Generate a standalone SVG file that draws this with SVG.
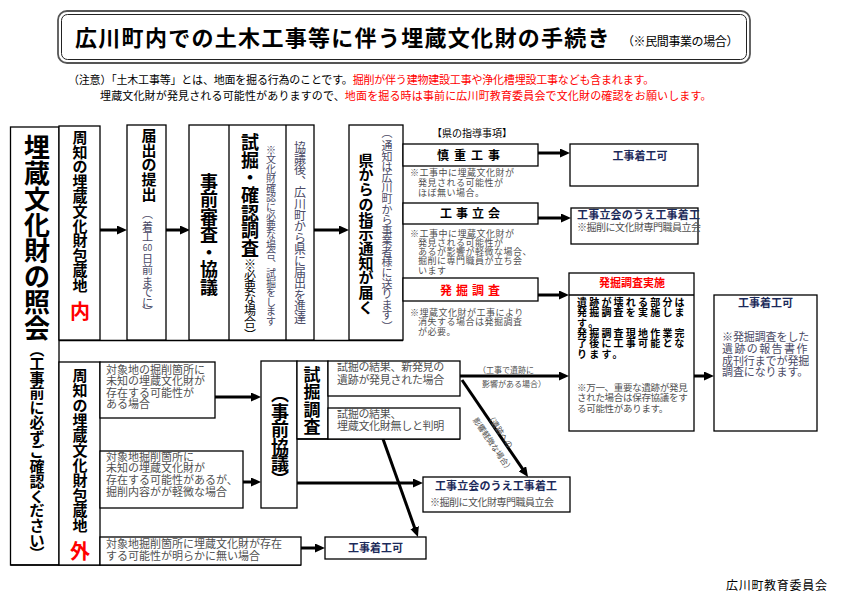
<svg xmlns="http://www.w3.org/2000/svg" width="841" height="596" viewBox="0 0 841 596">
<defs>
<marker id="ah" markerUnits="userSpaceOnUse" markerWidth="10" markerHeight="9" refX="3" refY="4.5" orient="auto" viewBox="0 0 10 9">
<path d="M0,0 L10,4.5 L0,9 z" fill="#000"/>
</marker>
<style>
text{font-family:"Noto Sans CJK JP","Noto Sans CJK SC",sans-serif;fill:#000}
.c{text-anchor:middle}
.bd{font-weight:bold}
.g{fill:#505050}
.bl{fill:#4a4a66}
.n{fill:#1c2a5a}
.r{fill:#ff0000}
.box{fill:#fff;stroke:#000;stroke-width:1.3}
.ln{fill:none;stroke:#000;stroke-width:1.3}
.a{fill:none;stroke:#000;stroke-width:3;marker-end:url(#ah)}
</style>
</defs>
<rect width="841" height="596" fill="#fff"/>

<g id="title">
<rect x="58" y="11" width="692" height="52" rx="9" fill="none" stroke="#555" stroke-width="1.8"/>
<rect x="61.5" y="14.5" width="685" height="45" rx="6" fill="none" stroke="#222" stroke-width="1"/>
<text x="75" y="46" font-size="22" font-weight="bold" letter-spacing="1.3">広川町内での土木工事等に伴う埋蔵文化財の手続き</text>
<text x="622" y="46" font-size="12" letter-spacing="-0.4" fill="#333">（※民間事業の場合）</text>
</g>

<g id="notes">
<text x="68" y="84" font-size="11" letter-spacing="-0.2" fill="#222">（注意）「土木工事等」とは、地面を掘る行為のことです。<tspan class="r">掘削が伴う建物建設工事や浄化槽埋設工事なども含まれます。</tspan></text>
<text x="100" y="100" font-size="11" letter-spacing="0.15" fill="#222">埋蔵文化財が発見される可能性がありますので、<tspan class="r">地面を掘る時は事前に広川町教育委員会で文化財の確認をお願いします。</tspan></text>
</g>

<g id="connectors">
<path class="a" d="M100,230 H120"/>
<path class="a" d="M166,230 H183"/>
<path class="a" d="M314,230 H342"/>
<path class="a" d="M538,153 H563"/>
<path class="a" d="M538,218 H564"/>
<path class="a" d="M538,295 H562"/>
<path class="a" d="M694,376 H707"/>
<path class="a" d="M460,376 H562"/>
<path class="a" d="M462,380 L524.1,471.2"/>
<path class="a" d="M383,439 L415.6,530.4"/>
<path class="a" d="M297,483 H416"/>
<path class="a" d="M215,397 H254"/>
<path class="a" d="M243,482 H254"/>
<path class="a" d="M301,548 H318"/>
<text x="478" y="373" font-size="8" class="g">（工事で遺跡に</text>
<text x="482" y="386.5" font-size="8" class="g">影響がある場合）</text>
<g transform="translate(462,380) rotate(56)">
<text x="63" y="0" font-size="8" class="c g">（遺跡への</text>
<text x="71" y="13.5" font-size="8" class="c g">影響軽微な場合）</text>
</g>
</g>

<g id="inquiry">
<rect class="box" x="10.5" y="127" width="48.5" height="438"/>
<text class="c bd" font-size="26" x="37 37 37 37 37 37 37 37" y="157 183 208.5 234.5 260 286 312 337.5">埋蔵文化財の照会</text>
<text class="c bd" font-size="15" x="37 37 37 37 37 37 37 37 37 37 37 37 37 37 37" y="354.7 368.7 383.5 398.2 413 427.7 442.5 457.2 472 486.7 501.5 516.2 531 545.7 558.7">︵工事前に必ずご確認ください︶</text>
</g>

<g id="divider">
<path class="ln" d="M59,340.5 H403"/>
<path class="ln" d="M10.5,565 H301"/>
</g>

<g id="inside">
<rect class="box" x="59" y="126" width="41" height="214"/>
<text class="c bd" font-size="15" x="80 80 80 80 80 80 80 80 80 80 80" y="142.7 157.5 172.3 187.1 201.9 216.7 231.5 246.3 261.1 275.9 290.7">周知の埋蔵文化財包蔵地</text>
<text class="c bd r" font-size="20" x="80" y="318.6">内</text>
</g>

<g id="notify">
<rect class="box" x="127" y="125" width="39" height="215"/>
<text class="c bd" font-size="15" x="149 149 149 149 149" y="140.7 155.5 170.2 185 199.7">届出の提出</text>
<text class="c bl" font-size="11" x="147.5 147.5 147.5" y="217.5 230.5 241">︵着工</text>
<text class="c bl" font-size="8.5" x="147.5" y="250.5">60</text>
<text class="c bl" font-size="11" x="147.5 147.5 147.5 147.5 147.5 147.5" y="262.5 273.8 285.5 296 306.8 315.5">日前までに︶</text>
</g>

<g id="review">
<rect class="box" x="189" y="125" width="125" height="215"/>
<path class="ln" d="M229,125 V340 M286,125 V340"/>
<text class="c bd" font-size="18" x="209 209 209 209 209 209 209" y="188.8 206.3 223.8 241.3 258.8 276.3 293.8">事前審査・協議</text>
<text class="c bd" font-size="18" x="250 250 250 250 250 250 250" y="148.8 166.5 184.2 201.9 219.6 237.3 255">試掘・確認調査</text>
<text class="c" font-size="12" x="250 250 250 250 250 250 250 250" y="254.1 268.6 279.6 291.6 302.6 314.6 326.6 339.6">︵※必要な場合︶</text>
<text class="c bl" font-size="10" x="271 271 271 271 271 271 271 271 271 271 271 271 271 271 271 271 271 271 271" y="153.8 163.3 172.8 182.3 191.8 201.3 210.8 220.3 229.8 239.3 248.8 258.3 267.8 277.3 286.8 296.3 305.8 315.3 324.8">※文化財確認に必要な場合︑試掘をします</text>
<text class="c bl" font-size="12" x="300 300 300 300 300 300 300 300 300 300 300 300 300 300 300 300" y="151.6 163 174.4 185.8 197.2 208.6 220 231.4 242.8 254.2 265.6 277 288.4 299.8 311.2 322.6">協議後︑広川町から県に届出を進達</text>
</g>

<g id="pref">
<rect class="box" x="349" y="125" width="54" height="215"/>
<text class="c bd" font-size="15" x="366 366 366 366 366 366 366 366 366 366 366" y="165.7 180.4 195.1 209.8 224.5 239.2 253.9 268.6 283.3 298 312.7">県からの指示通知が届く</text>
<text class="c bl" font-size="11" x="387 387 387 387 387 387 387 387 387 387 387 387 387 387 387 387 387 387 387" y="136.5 150.2 160.8 171.3 181.9 192.4 203 213.6 224.1 234.7 245.2 255.8 266.4 276.9 287.5 298 308.6 319.2 330.7">︵通知は広川町から事業者様に送ります︶</text>
</g>

<g id="guidance">
<text x="432" y="137" font-size="10" fill="#222">【県の指導事項】</text>
</g>

<g id="careful">
<rect class="box" x="403" y="144" width="135" height="22"/>
<text class="bd" x="437" y="159.5" font-size="12" letter-spacing="5">慎重工事</text>
<text class="g" font-size="9" letter-spacing="0.5"><tspan x="410" y="175.5">※工事中に埋蔵文化財が</tspan><tspan x="418" y="185.5">発見される可能性が</tspan><tspan x="418" y="195.5">ほぼ無い場合。</tspan></text>
</g>

<g id="witness">
<rect class="box" x="403" y="203" width="135" height="21"/>
<text class="bd" x="440" y="218" font-size="12" letter-spacing="4">工事立会</text>
<text class="g" font-size="9" letter-spacing="0.5"><tspan x="410" y="236.5">※工事中に埋蔵文化財が</tspan><tspan x="418" y="245.5">発見される可能性が</tspan><tspan x="418" y="254.5">あるが影響が軽微な場合、</tspan><tspan x="418" y="264">掘削に専門職員が立ち会</tspan><tspan x="418" y="273.5">います</tspan></text>
</g>

<g id="excavation">
<rect class="box" x="403" y="278" width="135" height="23"/>
<text class="bd r" x="440" y="294.5" font-size="12" letter-spacing="4">発掘調査</text>
<text class="g" font-size="9" letter-spacing="0.5"><tspan x="410" y="315.5">※埋蔵文化財が工事により</tspan><tspan x="418" y="325">消失する場合は発掘調査</tspan><tspan x="418" y="334.5">が必要。</tspan></text>
</g>

<g id="ok1">
<rect class="box" x="570" y="144" width="128" height="42"/>
<text class="c bd n" x="640" y="159.5" font-size="11">工事着工可</text>
</g>

<g id="witness-ok1">
<rect class="box" x="571" y="208" width="127" height="36"/>
<text class="bd n" x="577" y="219" font-size="11" letter-spacing="0.2">工事立会のうえ工事着工</text>
<text class="g" x="577" y="230.5" font-size="10" letter-spacing="-0.5">※掘削に文化財専門職員立会</text>
</g>

<g id="dig">
<rect class="box" x="569" y="273" width="125" height="158"/>
<path class="ln" d="M569,295 H694"/>
<text class="c bd r" x="632" y="287" font-size="11">発掘調査実施</text>
<text class="bd" font-size="10" letter-spacing="2.2"><tspan x="577" y="306">遺跡が壊れる部分は</tspan><tspan x="577" y="316.3">発掘調査を実施しま</tspan><tspan x="577" y="326.6">す。</tspan><tspan x="577" y="336.9">発掘調査現地作業完</tspan><tspan x="577" y="347.2">了後に工事可能とな</tspan><tspan x="577" y="357.5">ります。</tspan></text>
<text class="g" font-size="9.5" letter-spacing="-0.3"><tspan x="577" y="390.5">※万一、重要な遺跡が発見</tspan><tspan x="577" y="401">された場合は保存協議をす</tspan><tspan x="577" y="411.5">る可能性があります。</tspan></text>
</g>

<g id="ok2">
<rect class="box" x="714" y="295" width="103" height="136"/>
<text class="c bd n" x="765.5" y="307" font-size="11">工事着工可</text>
<text class="bl" font-size="11"><tspan x="722" y="341" letter-spacing="-0.1">※発掘調査をした</tspan><tspan x="722" y="353" letter-spacing="1.4">遺跡の報告書作</tspan><tspan x="722" y="364.5" letter-spacing="-0.1">成刊行までが発掘</tspan><tspan x="722" y="376" letter-spacing="-0.1">調査になります。</tspan></text>
</g>

<g id="outside">
<rect class="box" x="59" y="362" width="41" height="203"/>
<text class="c bd" font-size="15" x="80 80 80 80 80 80 80 80 80 80 80" y="380.7 395.7 410.7 425.7 440.7 455.7 470.7 485.7 500.7 515.7 530.7">周知の埋蔵文化財包蔵地</text>
<text class="c bd r" font-size="20" x="80" y="558.6">外</text>
</g>

<g id="case1">
<rect class="box" x="100" y="362" width="115" height="56"/>
<text class="g" font-size="11"><tspan x="106" y="374">対象地の掘削箇所に</tspan><tspan x="106" y="385">未知の埋蔵文化財が</tspan><tspan x="106" y="396.5">存在する可能性が</tspan><tspan x="106" y="408">ある場合</tspan></text>
</g>

<g id="case2">
<rect class="box" x="100" y="451" width="143" height="57"/>
<text class="g" font-size="11"><tspan x="106" y="461">対象地掘削箇所に</tspan><tspan x="106" y="472">未知の埋蔵文化財が</tspan><tspan x="106" y="484">存在する可能性があるが、</tspan><tspan x="106" y="496">掘削内容がが軽微な場合</tspan></text>
</g>

<g id="case3">
<rect class="box" x="100" y="537" width="201" height="28"/>
<text class="g" font-size="11"><tspan x="106" y="548">対象地掘削箇所に埋蔵文化財が存在</tspan><tspan x="106" y="559.5">する可能性が明らかに無い場合</tspan></text>
</g>

<g id="prior">
<rect class="box" x="261" y="361" width="36" height="147"/>
<text class="c bd" font-size="18" x="280 280 280 280 280 280" y="401.3 418.8 435.8 453.8 469.8 485.8">︵事前協議︶</text>
</g>

<g id="trial">
<rect class="box" x="297" y="361" width="31" height="78"/>
<text class="c bd" font-size="17" x="312 312 312 312" y="380.5 398 415.5 433">試掘調査</text>
<path class="ln" d="M297,439 H460"/>
</g>

<g id="trial-found">
<rect class="box" x="328" y="361" width="132" height="35"/>
<text class="g" font-size="11" letter-spacing="-0.3"><tspan x="337" y="371">試掘の結果、新発見の</tspan><tspan x="337" y="383.5">遺跡が発見された場合</tspan></text>
</g>

<g id="trial-none">
<rect class="box" x="328" y="408" width="132" height="31"/>
<text class="g" font-size="11" letter-spacing="-0.3"><tspan x="337" y="417.5">試掘の結果、</tspan><tspan x="337" y="430">埋蔵文化財無しと判明</tspan></text>
</g>

<g id="witness-ok2">
<rect class="box" x="423" y="477" width="147" height="35"/>
<text class="bd n" x="435" y="490" font-size="11" letter-spacing="0.1">工事立会のうえ工事着工</text>
<text class="g" x="430" y="505.5" font-size="10" letter-spacing="-0.5">※掘削に文化財専門職員立会</text>
</g>

<g id="ok3">
<rect class="box" x="325" y="537" width="101" height="22"/>
<text class="c bd n" x="375.5" y="552" font-size="11">工事着工可</text>
</g>

<g id="footer">
<text x="726" y="589.5" font-size="12" letter-spacing="0.7" fill="#222">広川町教育委員会</text>
</g>
</svg>
